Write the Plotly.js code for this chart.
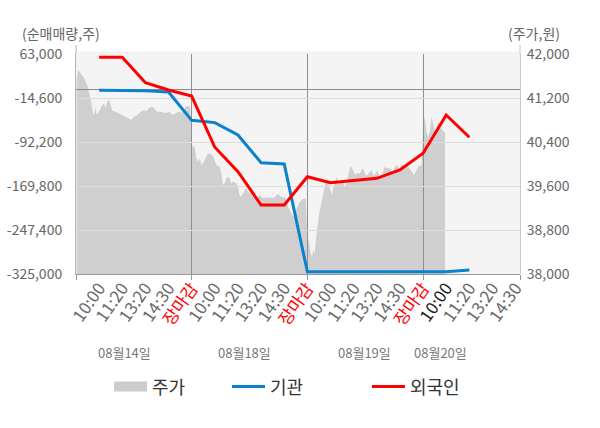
<!DOCTYPE html>
<html>
<head>
<meta charset="utf-8">
<script src="https://cdn.plot.ly/plotly-3.0.1.min.js"></script>
<style>
  html, body { margin: 0; padding: 0; background: #fff; }
  #chart { width: 600px; height: 428px; }
</style>
</head>
<body>
<div id="chart"></div>
<script>
// x axis: one unit per tick slot, day boundaries at 5, 10, 15
var tickPos = [1,2,3,4,5,6,7,8,9,10,11,12,13,14,15,16,17,18,19];
var tickLabels = ['10:00','11:20','13:20','14:30','장마감',
                  '10:00','11:20','13:20','14:30','장마감',
                  '10:00','11:20','13:20','14:30','장마감',
                  '10:00','11:20','13:20','14:30'];
var dayEdges = [0, 5, 10, 15, 19.19];
var dayNames = ['08월14일','08월18일','08월19일','08월20일'];
var dayNamePos = [2.1, 7.28, 12.49, 15.77];

// left axis (net buy volume, shares)
var volTicks = [63000, -14600, -92200, -169800, -247400, -325000];
// right axis (price, won)
var priceTicks = [38000, 38800, 39600, 40400, 41200, 42000];

// investor cumulative net buying, one point per tick slot
var flowX = [1,2,3,4,5,6,7,8,9,10,11,12,13,14,15,16,17];
var institution = [-1000, -1000, -2000, -4000, -54000, -58000, -79900, -128700, -131000,
                   -321000, -321000, -321000, -321000, -321000, -321000, -321000, -318000];
var foreigner = [57200, 57200, 12400, -500, -11100, -101500, -144600, -203300, -203300,
                 -153400, -164000, -160500, -156200, -141600, -112100, -44600, -83900];

// intraday price
var priceX = [0.03,0.09,0.20,0.35,0.49,0.56,0.64,0.70,0.75,0.81,0.85,0.89,0.99,1.14,1.21,1.28,1.35,1.43,1.50,1.57,
  1.72,1.86,2.00,2.15,2.29,2.39,2.51,2.65,2.80,2.94,3.01,3.15,3.30,3.37,3.51,3.66,3.80,3.95,4.05,4.16,
  4.31,4.45,4.59,4.74,4.88,4.93,
  4.96,5.01,5.06,5.13,5.20,5.27,5.35,5.42,5.49,5.56,5.63,5.70,5.78,5.92,5.99,6.06,6.21,6.28,6.35,6.43,
  6.50,6.57,6.64,6.71,6.79,6.93,7.00,7.07,7.14,7.22,7.29,7.36,7.43,7.51,7.65,7.79,7.87,7.94,8.08,8.22,
  8.37,8.51,8.66,8.73,8.87,9.02,9.09,9.16,9.23,9.30,9.38,9.45,9.52,9.59,9.67,9.81,9.88,9.94,
  9.97,10.04,10.08,10.14,10.20,10.26,10.32,10.37,10.43,10.49,10.54,10.62,10.69,10.76,10.83,10.90,10.98,
  11.05,11.12,11.19,11.27,11.34,11.41,11.55,11.63,11.70,11.77,11.84,11.91,11.98,12.06,12.13,12.27,12.35,
  12.42,12.49,12.56,12.71,12.78,12.85,12.96,13.02,13.11,13.21,13.28,13.35,13.45,13.57,13.69,13.79,13.86,
  13.97,14.07,14.22,14.36,14.51,14.61,14.72,14.79,14.94,
  15.01,15.08,15.16,15.22,15.30,15.37,15.44,15.51,15.59,15.66,15.73,15.80,15.90,15.95];
var price = [41558,41709,41649,41558,41436,41315,41163,41012,40890,40950,41042,40890,40950,41072,41103,41012,41133,41163,41042,40969,
  40950,40921,40890,40860,40830,40800,40860,40890,40950,40981,40950,41012,41042,41012,40950,40950,40930,40930,40950,40890,
  40921,40950,40930,41042,41054,41042,
  40800,40376,40285,40330,40103,40042,40103,39982,40012,40073,40145,40194,40185,40145,40073,39982,39951,39830,39618,39648,
  39739,39769,39739,39648,39679,39648,39587,39436,39406,39467,39497,39576,39497,39467,39467,39376,39406,39436,39376,39391,
  39391,39376,39421,39455,39406,39391,39358,39224,39164,39103,39042,39103,39176,39255,39315,39358,39376,39360,
  38921,38618,38588,38376,38315,38436,38376,38618,38860,39042,39164,39315,39467,39587,39739,39679,39527,
  39436,39558,39679,39769,39618,39679,39648,39587,39679,39830,39921,39951,39860,39800,39830,39830,39890,
  39921,39820,39780,39860,39890,39780,39830,39890,39769,39800,39890,39951,39921,39921,39860,39951,39982,
  39921,39982,39982,39951,39860,39800,39890,39951,39982,
  40860,40830,40557,40497,40618,40860,40709,40588,40679,40769,40679,40648,40588,40588];

function comma(v) {
  var s = Math.abs(v).toString().replace(/\B(?=(\d{3})+(?!\d))/g, ',');
  return (v < 0 ? '-' : '') + s;
}

var tickText = tickLabels.map(function (t, i) {
  if (t === '장마감') return '<span style="color:#ff0000">' + t + '</span>';
  if (i === 15) return '<span style="color:#222222">' + t + '</span>';
  return t;
});

var FONT = 'Noto Sans CJK KR, Noto Sans, sans-serif';

var traces = [
  {
    x: priceX, y: price, xaxis: 'x', yaxis: 'y',
    type: 'scatter', mode: 'lines', fill: 'tozeroy',
    fillcolor: '#cfcfcf', line: {width: 0, color: '#cfcfcf'},
    showlegend: false, hoverinfo: 'skip'
  },
  {
    // legend entry for the price area
    x: [null], y: [null], xaxis: 'x2', yaxis: 'y2',
    type: 'scatter', mode: 'lines', name: '주가',
    line: {color: '#cccccc', width: 13}, legend: 'legend'
  },
  {
    x: flowX, y: institution, xaxis: 'x2', yaxis: 'y2',
    type: 'scatter', mode: 'lines', name: '기관',
    line: {color: '#0a82cc', width: 3}, legend: 'legend2'
  },
  {
    x: flowX, y: foreigner, xaxis: 'x2', yaxis: 'y2',
    type: 'scatter', mode: 'lines', name: '외국인',
    line: {color: '#ff0000', width: 3}, legend: 'legend3'
  }
];

var legendBase = {
  orientation: 'h', xanchor: 'left', yanchor: 'middle', y: -0.513,
  itemwidth: 33,
  bgcolor: 'rgba(0,0,0,0)', font: {family: FONT, size: 18, color: '#333333'}
};

var annotations = dayNames.map(function (d, i) {
  return {
    text: d, xref: 'x2', yref: 'paper', x: dayNamePos[i], y: -0.359,
    showarrow: false, xanchor: 'center', yanchor: 'middle',
    font: {family: FONT, size: 13, color: '#777777'}
  };
});
annotations.push({
  text: '(순매매량,주)', xref: 'paper', yref: 'paper', x: -0.034, y: 1.095,
  showarrow: false, xanchor: 'center', yanchor: 'middle',
  font: {family: FONT, size: 14, color: '#666666'}
});
annotations.push({
  text: '(주가,원)', xref: 'paper', yref: 'paper', x: 1.0315, y: 1.095,
  showarrow: false, xanchor: 'center', yanchor: 'middle',
  font: {family: FONT, size: 14, color: '#666666'}
});

var layout = {
  width: 600, height: 428,
  margin: {l: 76, r: 80, t: 54, b: 154},
  paper_bgcolor: '#ffffff',
  plot_bgcolor: 'rgba(0,0,0,0)',
  font: {family: FONT, color: '#666666'},
  showlegend: true,
  legend: Object.assign({}, legendBase, {x: 0.0743}),
  legend2: Object.assign({}, legendBase, {x: 0.3401}),
  legend3: Object.assign({}, legendBase, {x: 0.6554}),
  xaxis: {
    anchor: 'y', range: [0, 19.19], tickmode: 'array',
    tickvals: tickPos, ticktext: tickText, tickangle: -55,
    tickfont: {family: FONT, size: 17, color: '#6a6a6a'},
    showgrid: false, zeroline: false, showline: false, ticks: ''
  },
  yaxis: {
    anchor: 'x', side: 'right', range: [38000, 42000],
    tickmode: 'array', tickvals: priceTicks, ticktext: priceTicks.map(comma),
    tickfont: {family: FONT, size: 14, color: '#666666'},
    showgrid: false, zeroline: false, showline: true, linecolor: '#c8c8c8',
    ticks: '', ticklabelstandoff: 3
  },
  xaxis2: {
    anchor: 'y2', range: [0, 19.19], tickmode: 'array', tickvals: dayEdges,
    showticklabels: false, ticks: 'outside', ticklen: 5, tickcolor: '#999999',
    showgrid: true, gridcolor: '#8f8f8f', gridwidth: 1,
    zeroline: false, showline: true, linecolor: '#999999'
  },
  yaxis2: {
    anchor: 'x2', side: 'left', range: [-325000, 63000],
    tickmode: 'array', tickvals: volTicks, ticktext: volTicks.map(comma),
    tickfont: {family: FONT, size: 14, color: '#666666'},
    showgrid: true, gridcolor: '#dddddd', gridwidth: 1,
    zeroline: true, zerolinecolor: '#8c8c8c', zerolinewidth: 1,
    showline: true, linecolor: '#b4b4b4', ticks: '', ticklabelstandoff: 10
  },
  shapes: [
    {type: 'rect', xref: 'paper', yref: 'paper', x0: 0, x1: 1, y0: 0, y1: 1.011,
     fillcolor: '#f4f4f4', line: {width: 0}, layer: 'below'},
    {type: 'line', xref: 'paper', yref: 'paper', x0: 0, x1: 0, y0: 1, y1: 1.041,
     line: {color: '#b4b4b4', width: 1}},
    {type: 'line', xref: 'paper', yref: 'paper', x0: 1, x1: 1, y0: 1, y1: 1.041,
     line: {color: '#c8c8c8', width: 1}}
  ],
  annotations: annotations
};

Plotly.newPlot('chart', traces, layout, {displayModeBar: false, staticPlot: true});
</script>
</body>
</html>
